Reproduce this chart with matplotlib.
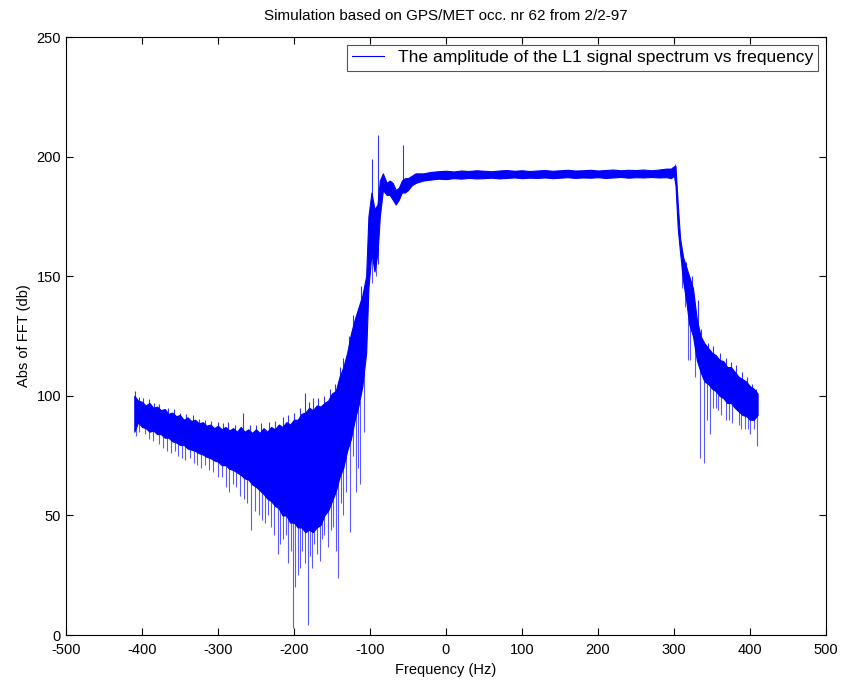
import numpy as np
import matplotlib.pyplot as plt

plt.rcParams['font.family'] = ['Liberation Sans', 'DejaVu Sans']
plt.rcParams['axes.unicode_minus'] = False

# dense band of the spectrum (Hz, db)
# left skirt, every 5 Hz from -410 to -105
left_f = np.arange(-410, -104, 5)
left_hi = [100, 98, 97.5, 96, 97, 95, 95.5, 94, 94.5, 92.5,
           93, 91.5, 92, 90, 91, 89.5, 90, 88.5, 89, 87.5,
           88, 86.5, 87.5, 86, 87, 85.5, 86.5, 85, 87, 85,
           86, 84.5, 86, 84.5, 86.5, 85, 87, 86, 88, 87,
           89, 88, 90, 90, 92.5, 93, 95, 94, 96, 95.5,
           97, 98, 101, 102, 108, 112, 118, 126, 132, 137,
           142, 150]
left_lo = [85, 89, 87, 86.5, 85, 85.5, 84, 84, 82.5, 82.5,
           81, 80.5, 79.5, 79.5, 78, 77.5, 77, 76, 75.5, 74.5,
           74, 73, 72.5, 71, 71, 69.5, 69, 68, 67, 65.5,
           65, 63, 62, 60.5, 59, 57, 56, 54, 53, 50,
           50, 47, 47, 45, 45, 43, 44, 43, 45, 46,
           50, 52, 56, 60, 66, 70, 77, 82, 90, 96,
           104, 118]

# rising edge
edge_f = [-102, -98, -94, -90, -87, -83, -78, -74, -70, -66, -62, -58, -54, -50, -45, -40, -30]
edge_hi = [175, 185, 178, 180, 190, 193, 189, 190, 189, 186, 187, 190, 191, 191, 192, 193, 193]
edge_lo = [145, 160, 152, 160, 175, 186, 184, 184, 182, 180, 182, 185, 185, 186, 188, 189, 190]

# flat top, every 10 Hz from -20 to 290
flat_f = np.arange(-20, 291, 10)
flat_hi = [193.6, 193.9, 194.1, 193.8, 194.2, 194.0, 194.3, 194.1, 193.9, 194.2,
           194.4, 194.1, 194.3, 194.0, 194.2, 194.4, 194.1, 194.3, 194.5, 194.2,
           194.3, 194.5, 194.2, 194.4, 194.6, 194.3, 194.5, 194.4, 194.6, 194.3,
           194.6, 195.0]
flat_lo = [190.4, 190.8, 190.6, 191.0, 190.8, 191.1, 190.9, 191.0, 191.2, 190.9,
           191.1, 191.3, 191.0, 191.2, 191.1, 191.3, 191.0, 191.2, 191.4, 191.1,
           191.3, 191.2, 191.4, 191.1, 191.3, 191.5, 191.2, 191.4, 191.3, 191.5,
           191.3, 191.4]

# falling edge and right skirt
right_f = [296, 300, 302, 305, 308, 312, 316, 320, 325, 330, 335, 340, 345,
           350, 355, 360, 365, 370, 375, 380, 385, 390, 395, 400, 405, 410]
right_hi = [195, 196, 196, 180, 166, 158, 154, 150, 145, 132, 125, 122, 120,
            118, 117, 115, 114.5, 112, 112, 110, 108, 107, 106, 104, 103, 101]
right_lo = [191, 192, 188, 170, 160, 148, 140, 130, 125, 115, 110, 106, 105,
            103, 102, 100, 99, 97, 97, 95, 93.5, 92, 91.5, 90, 90, 92]

# downward spikes below the band: frequency, tip, start inside band
dip_f = [-408, -396, -385, -372, -362, -352, -343, -332, -322, -312, -300, -290,
         -280, -271, -262, -256, -246, -238, -230, -221, -214, -208, -201, -195,
         -190, -182, -176, -170, -163, -155, -148, -142, -135, -126, -118, -113,
         -108, -97, -92, 314, 318, 321, 334, 339, 344, 347, 355, 362, 368, 376,
         385, 393, 400, 405, 409,
         -404, -391, -378, -367, -357, -347, -337, -327, -317, -306,
         -295, -285, -276, -266, -251, -242, -234, -226, -218, -211,
         -204, -198, -192, -186, -179, -173, -166, -160, -151, -145,
         -138, -131, -122, -116, 310, 328, 352, 358, 372, 388, 397]
dip_tip = [83, 84, 81, 78, 76, 75, 73, 72, 70, 69, 66, 62,
           63, 58, 55, 44, 50, 47, 45, 34, 40, 30, 3, 25,
           35, 4, 28, 34, 40, 37, 45, 24, 50, 43, 60, 63,
           85, 147, 150, 137, 115, 115, 74, 72, 90, 84, 95, 92, 90, 88.6,
           88, 86, 84, 86, 79,
           85, 82, 80, 77, 77, 74, 74, 71, 71, 68,
           66, 60, 62, 57, 52, 48, 50, 42, 38, 42,
           35, 20, 28, 30, 33, 38, 31, 42, 44, 35,
           55, 60, 75, 70, 145, 108, 95, 94, 90, 86, 86]
dip_top = [92, 92, 90, 88, 86, 85, 84, 83, 82, 80, 79, 77,
           76, 74, 72, 70, 68, 65, 62, 60, 58, 56, 54, 50,
           50, 48, 48, 48, 50, 54, 58, 65, 72, 82, 92, 98,
           110, 175, 170, 150, 140, 138, 120, 118, 115, 112, 108, 105, 103, 100,
           98, 96, 95, 95, 96,
           92, 90, 88, 86, 85, 84, 83, 81, 80, 78,
           76, 74, 72, 70, 66, 63, 61, 59, 56, 54,
           52, 50, 50, 48, 48, 48, 48, 50, 56, 60,
           68, 78, 90, 96, 160, 130, 110, 108, 105, 100, 98]

# upward spikes above the band
peak_f = [-409, -398, -384, -366, -350, -333, -317, -300, -287, -267, -250, -233,
          -215, -200, -185.5, -175, -160, -152, -140, -128, -97.6, -89.5, -56.6,
          301, 316, 324, 331, 345, 360, 375, 390, 403,
          -404, -391, -377, -358, -342, -325, -309, -293, -277, -258,
          -243, -225, -208, -192, -180, -168, -146, -135, -122, -112,
          336, 352, 368, 382, 396, 408]
peak_tip = [102, 99, 97, 95, 93, 92, 90, 89, 89, 93, 88, 89,
            91, 93, 101, 99, 100, 103, 112, 125, 199, 209, 205,
            197, 156, 150, 140, 122, 118, 114, 110, 105,
            99.5, 98.5, 96.5, 94.5, 92.5, 90.5, 89.5, 88.5, 88, 88,
            88.5, 89.5, 92, 95, 97.5, 99, 105, 116, 134, 146,
            128, 121, 116, 113, 108, 103]
peak_base = [92, 90, 88, 86, 84, 82, 80, 78, 76, 72, 70, 68,
             65, 60, 60, 58, 60, 65, 75, 90, 160, 155, 186,
             192, 140, 130, 118, 106, 102, 98, 95, 92,
             93, 90, 88, 85, 83, 80, 78, 76, 72, 68,
             64, 60, 56, 52, 50, 50, 60, 70, 90, 104,
             110, 105, 100, 96, 93, 92]

band_f = np.concatenate([left_f, edge_f, flat_f, right_f])
band_hi = np.concatenate([left_hi, edge_hi, flat_hi, right_hi])
band_lo = np.concatenate([left_lo, edge_lo, flat_lo, right_lo])

fig = plt.figure(figsize=(8.45, 6.86), dpi=100)
ax = fig.add_axes([0.078, 0.0743, 0.8995, 0.8717])

ax.fill_between(band_f, band_lo, band_hi, color='#0000ff', lw=0.8)
ax.vlines(dip_f, dip_tip, dip_top, color='#0000ff', lw=0.8, alpha=0.65)
ax.vlines(peak_f, peak_base, peak_tip, color='#0000ff', lw=0.8, alpha=0.8)
ax.plot([], [], color='#0000ff', lw=0.8,
        label='The amplitude of the L1 signal spectrum vs frequency')

ax.set_xlim(-500, 500)
ax.set_ylim(0, 250)
ax.set_xticks(np.arange(-500, 501, 100))
ax.set_yticks(np.arange(0, 251, 50))
ax.tick_params(direction='in', top=True, right=True, length=5, labelsize=10.5)
ax.tick_params(axis='x', pad=6)
for s in ax.spines.values():
    s.set_linewidth(0.8)

ax.set_title('Simulation based on GPS/MET occ. nr 62 from 2/2-97', fontsize=11, pad=12)
ax.set_xlabel('Frequency (Hz)', fontsize=10.5)
ax.set_ylabel('Abs of FFT (db)', fontsize=10.5)

leg = ax.legend(loc='upper right', fontsize=12.6, fancybox=False, framealpha=1,
                edgecolor='#555555', borderaxespad=0.45, borderpad=0.3,
                handlelength=1.8)
leg.get_frame().set_linewidth(0.8)

fig.savefig('out.png', dpi=100)
